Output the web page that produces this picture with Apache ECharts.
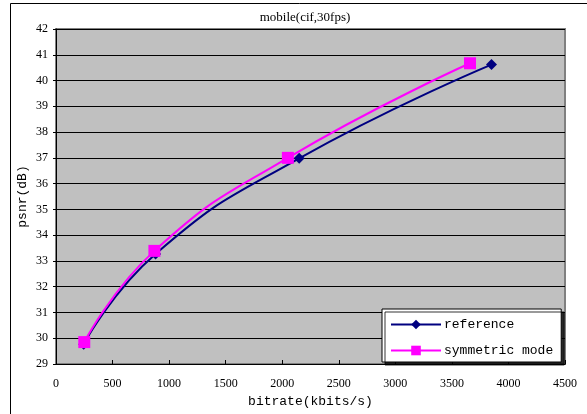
<!DOCTYPE html>
<html>
<head>
<meta charset="utf-8">
<script src="https://cdn.jsdelivr.net/npm/echarts@6/dist/echarts.min.js"></script>
<style>html,body{margin:0;padding:0;background:#fff}#c{width:587px;height:414px}</style>
</head>
<body>
<div id="c"></div>
<script>
var titleText = 'mobile(cif,30fps)';
var seriesNames = ['reference', 'symmetric mode'];
var refBitrate = [245, 880, 2150, 3850];
var refPsnr = [29.77, 33.27, 36.98, 40.62];
var symBitrate = [250, 870, 2050, 3660];
var symPsnr = [29.85, 33.39, 37.0, 40.67];

function pairs(xs, ys) { return xs.map(function (x, i) { return [x, ys[i]]; }); }

var chart = echarts.init(document.getElementById('c'));
chart.setOption({
  animation: false,
  backgroundColor: '#fff',
  title: {
    text: titleText, left: 300, top: 6, textAlign: 'center',
    textStyle: { fontFamily: 'Liberation Serif', fontSize: 13, fontWeight: 'normal', color: '#000' }
  },
  graphic: [{
    type: 'rect', shape: { x: 10.5, y: 3.5, width: 700, height: 500 },
    style: { fill: 'none', stroke: '#000', lineWidth: 1 }, z: -1
  }],
  grid: { left: 56, top: 29, right: 22, bottom: 50, show: true, backgroundColor: '#c0c0c0', borderColor: '#808080', borderWidth: 2 },
  xAxis: {
    type: 'value', min: 0, max: 4500, interval: 500,
    name: 'bitrate(kbits/s)', nameLocation: 'middle', nameGap: 27,
    nameTextStyle: { fontFamily: 'Liberation Mono', fontSize: 13, color: '#000' },
    axisLine: { show: true, onZero: false, lineStyle: { color: '#000', width: 1 } },
    axisTick: { show: true, inside: true, length: 4, lineStyle: { color: '#000' } },
    axisLabel: { fontFamily: 'Liberation Serif', fontSize: 12, color: '#000', margin: 14,
      formatter: function (v) { return String(v); } },
    splitLine: { show: false }
  },
  yAxis: {
    type: 'value', min: 29, max: 42, interval: 1,
    name: 'psnr(dB)', nameLocation: 'middle', nameGap: 27, nameMoveOverlap: false,
    nameTextStyle: { fontFamily: 'Liberation Mono', fontSize: 13, color: '#000' },
    axisLine: { show: true, lineStyle: { color: '#000', width: 1 } },
    axisTick: { show: true, length: 3, lineStyle: { color: '#000' } },
    axisLabel: { fontFamily: 'Liberation Serif', fontSize: 12, color: '#000', margin: 8 },
    splitLine: { show: true, lineStyle: { color: '#000', width: 1 } }
  },
  legend: {
    orient: 'vertical', left: 382, top: 309,
    itemWidth: 50, itemHeight: 12, itemGap: 13,
    padding: [9, 8, 5, 8],
    backgroundColor: '#fff', borderColor: '#000', borderWidth: 1,
    shadowColor: 'rgba(0,0,0,0.8)', shadowOffsetX: 3, shadowOffsetY: 3, shadowBlur: 0,
    textStyle: { fontFamily: 'Liberation Mono', fontSize: 13, color: '#000', width: 112, padding: [0, 0, 0, -2] },
    data: seriesNames
  },
  series: [{
    name: seriesNames[0], type: 'line', smooth: true,
    data: pairs(refBitrate, refPsnr),
    symbol: 'diamond', symbolSize: 11,
    lineStyle: { color: '#000080', width: 2 },
    itemStyle: { color: '#000080' }, z: 2
  }, {
    name: seriesNames[1], type: 'line', smooth: true,
    data: pairs(symBitrate, symPsnr),
    symbol: 'rect', symbolSize: 12,
    lineStyle: { color: '#ff00ff', width: 2 },
    itemStyle: { color: '#ff00ff' }, z: 3
  }]
});
</script>
</body>
</html>
